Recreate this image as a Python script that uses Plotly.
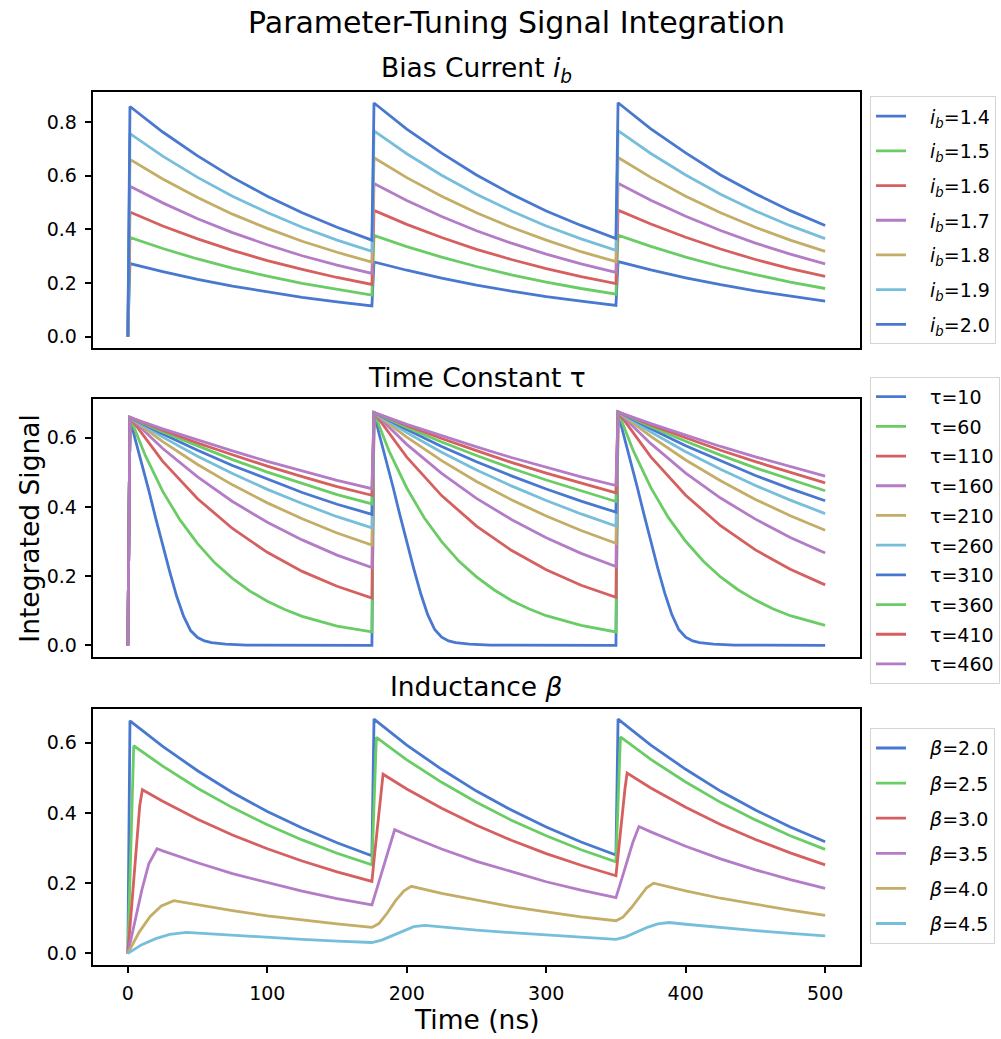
import plotly.graph_objects as go

# ---------------- data ----------------
t_ib = [0, 1.5, 25, 50, 75, 100, 125, 150, 175, 176.5, 200, 225, 250, 275, 300, 325, 350,
        351.5, 375, 400, 425, 450, 475, 500]
ib_labels = ["1.4", "1.5", "1.6", "1.7", "1.8", "1.9", "2.0"]
ib_14 = [0, 0.273, 0.243, 0.214, 0.189, 0.167, 0.147, 0.130, 0.115, 0.279, 0.248, 0.219, 0.193, 0.170, 0.150, 0.133, 0.117, 0.280, 0.249, 0.220, 0.194, 0.171, 0.151, 0.133]
ib_15 = [0, 0.370, 0.329, 0.290, 0.256, 0.226, 0.199, 0.176, 0.155, 0.378, 0.336, 0.297, 0.262, 0.231, 0.204, 0.180, 0.159, 0.379, 0.337, 0.297, 0.262, 0.232, 0.204, 0.180]
ib_16 = [0, 0.465, 0.413, 0.365, 0.322, 0.284, 0.251, 0.221, 0.195, 0.471, 0.419, 0.370, 0.326, 0.288, 0.254, 0.224, 0.198, 0.472, 0.420, 0.371, 0.327, 0.288, 0.254, 0.225]
ib_17 = [0, 0.561, 0.499, 0.440, 0.388, 0.343, 0.302, 0.267, 0.236, 0.571, 0.508, 0.448, 0.395, 0.349, 0.308, 0.272, 0.240, 0.572, 0.509, 0.449, 0.396, 0.349, 0.308, 0.272]
ib_18 = [0, 0.661, 0.588, 0.519, 0.457, 0.404, 0.356, 0.315, 0.278, 0.667, 0.593, 0.524, 0.462, 0.408, 0.360, 0.317, 0.280, 0.668, 0.594, 0.524, 0.462, 0.408, 0.360, 0.318]
ib_19 = [0, 0.757, 0.673, 0.594, 0.524, 0.463, 0.408, 0.360, 0.318, 0.767, 0.682, 0.602, 0.531, 0.469, 0.413, 0.365, 0.322, 0.768, 0.683, 0.603, 0.531, 0.469, 0.414, 0.366]
ib_20 = [0, 0.858, 0.763, 0.674, 0.594, 0.524, 0.462, 0.408, 0.360, 0.871, 0.774, 0.684, 0.603, 0.532, 0.469, 0.415, 0.366, 0.872, 0.775, 0.685, 0.603, 0.533, 0.470, 0.415]

t_tau = t_ib
t_tau10 = [0, 1.5, 5, 10, 15, 20, 25, 30, 35, 40, 45, 50, 55, 60, 70, 85, 175,
           176.5, 180, 185, 190, 195, 200, 205, 210, 215, 220, 225, 230, 235, 245, 260, 350,
           351.5, 355, 360, 365, 370, 375, 380, 385, 390, 395, 400, 405, 410, 420, 435, 500]
tau_10 = [0, 0.659, 0.600, 0.527, 0.448, 0.367, 0.289, 0.213, 0.142, 0.084, 0.043, 0.023, 0.013, 0.008, 0.004, 0.001, 0.0,
          0.673, 0.614, 0.540, 0.460, 0.378, 0.299, 0.222, 0.150, 0.089, 0.046, 0.024, 0.013, 0.008, 0.004, 0.001, 0.0,
          0.675, 0.616, 0.542, 0.462, 0.380, 0.300, 0.223, 0.151, 0.090, 0.046, 0.024, 0.013, 0.008, 0.004, 0.001, 0.0]
t_tau60 = [0, 1.5, 12.5, 25, 37.5, 50, 62.5, 75, 87.5, 100, 112.5, 125, 150, 175,
           176.5, 187.5, 200, 212.5, 225, 237.5, 250, 262.5, 275, 287.5, 300, 325, 350,
           351.5, 362.5, 375, 387.5, 400, 412.5, 425, 437.5, 450, 462.5, 475, 500]
tau_60 = [0, 0.659, 0.549, 0.445, 0.362, 0.294, 0.238, 0.194, 0.157, 0.128, 0.104, 0.084, 0.056, 0.039,
          0.673, 0.560, 0.455, 0.369, 0.300, 0.243, 0.198, 0.161, 0.130, 0.106, 0.086, 0.058, 0.039,
          0.675, 0.562, 0.456, 0.370, 0.301, 0.244, 0.198, 0.161, 0.131, 0.106, 0.086, 0.058]
tau_110 = [0, 0.659, 0.532, 0.424, 0.338, 0.269, 0.214, 0.171, 0.137, 0.673, 0.544, 0.433, 0.345, 0.275, 0.219, 0.174, 0.139, 0.675, 0.545, 0.434, 0.346, 0.276, 0.220, 0.175]
tau_160 = [0, 0.659, 0.569, 0.487, 0.416, 0.356, 0.305, 0.261, 0.225, 0.673, 0.581, 0.497, 0.425, 0.364, 0.311, 0.266, 0.228, 0.675, 0.583, 0.498, 0.426, 0.365, 0.312, 0.267]
tau_210 = [0, 0.659, 0.589, 0.523, 0.464, 0.412, 0.366, 0.325, 0.290, 0.673, 0.602, 0.534, 0.474, 0.421, 0.374, 0.332, 0.295, 0.675, 0.604, 0.536, 0.476, 0.422, 0.375, 0.333]
tau_260 = [0, 0.659, 0.602, 0.547, 0.497, 0.451, 0.410, 0.372, 0.340, 0.673, 0.615, 0.558, 0.507, 0.461, 0.419, 0.380, 0.345, 0.675, 0.617, 0.560, 0.509, 0.462, 0.420, 0.381]
tau_310 = [0, 0.659, 0.611, 0.564, 0.520, 0.480, 0.442, 0.408, 0.379, 0.673, 0.624, 0.575, 0.531, 0.490, 0.452, 0.417, 0.385, 0.675, 0.626, 0.577, 0.533, 0.491, 0.453, 0.418]
tau_360 = [0, 0.659, 0.617, 0.576, 0.537, 0.501, 0.468, 0.436, 0.409, 0.673, 0.630, 0.588, 0.549, 0.512, 0.478, 0.446, 0.416, 0.675, 0.632, 0.590, 0.550, 0.513, 0.479, 0.447]
tau_410 = [0, 0.659, 0.622, 0.585, 0.551, 0.518, 0.488, 0.459, 0.434, 0.673, 0.636, 0.598, 0.563, 0.529, 0.498, 0.469, 0.441, 0.675, 0.637, 0.600, 0.564, 0.531, 0.500, 0.470]
tau_460 = [0, 0.659, 0.626, 0.593, 0.562, 0.532, 0.504, 0.477, 0.453, 0.673, 0.639, 0.606, 0.574, 0.543, 0.515, 0.487, 0.462, 0.675, 0.641, 0.608, 0.575, 0.545, 0.516, 0.489]

b20_t = t_ib
b20 = [0, 0.662, 0.589, 0.520, 0.458, 0.404, 0.357, 0.315, 0.278, 0.667, 0.593, 0.524, 0.462, 0.408, 0.360, 0.317, 0.280, 0.667, 0.593, 0.524, 0.462, 0.408, 0.360, 0.318]
b25_t = [0, 4.2, 25, 50, 75, 100, 125, 150, 175, 178.2, 200, 225, 250, 275, 300, 325, 350, 353.2, 375, 400, 425, 450, 475, 500]
b25 = [0, 0.591, 0.533, 0.470, 0.415, 0.366, 0.323, 0.285, 0.252, 0.615, 0.551, 0.487, 0.430, 0.379, 0.335, 0.295, 0.261, 0.616, 0.552, 0.488, 0.430, 0.380, 0.335, 0.296]
b30_t = [0, 3, 6, 8.5, 10.4, 25, 50, 75, 100, 125, 150, 175, 177, 179.5, 181.5, 183, 200, 225, 250, 275, 300, 325, 350,
         352, 354.5, 356.5, 358, 375, 400, 425, 450, 475, 500]
b30 = [0, 0.15, 0.30, 0.42, 0.466, 0.433, 0.382, 0.337, 0.298, 0.263, 0.232, 0.205, 0.285, 0.385, 0.465, 0.510, 0.468, 0.413, 0.365, 0.322, 0.284, 0.251, 0.221,
       0.30, 0.39, 0.47, 0.513, 0.471, 0.416, 0.367, 0.324, 0.286, 0.252]
b35_t = [0, 5, 10, 15, 20.9, 25, 50, 75, 100, 125, 150, 175, 179, 183, 187, 191.3, 200, 225, 250, 275, 300, 325, 350,
         354, 358, 362, 366.5, 375, 400, 425, 450, 475, 500]
b35 = [0, 0.09, 0.18, 0.255, 0.298, 0.292, 0.258, 0.227, 0.201, 0.177, 0.156, 0.138, 0.190, 0.243, 0.296, 0.352, 0.337, 0.297, 0.262, 0.232, 0.204, 0.180, 0.159,
       0.21, 0.262, 0.315, 0.361, 0.346, 0.305, 0.269, 0.238, 0.210, 0.185]
b40_t = [0, 8, 16, 24, 33, 50, 75, 100, 125, 150, 175, 180, 186, 192, 198, 203.3, 225, 250, 275, 300, 325, 350,
         355, 361, 367, 372, 377, 400, 425, 450, 475, 500]
b40 = [0, 0.06, 0.105, 0.135, 0.150, 0.138, 0.122, 0.107, 0.095, 0.084, 0.074, 0.085, 0.115, 0.150, 0.178, 0.191, 0.171, 0.151, 0.133, 0.118, 0.104, 0.093,
       0.103, 0.13, 0.163, 0.187, 0.200, 0.178, 0.157, 0.139, 0.123, 0.108]
b45_t = [0, 10, 20, 30, 42, 50, 75, 100, 125, 150, 175, 182, 190, 198, 205, 213, 225, 250, 275, 300, 325, 350,
         357, 365, 373, 380, 388, 400, 425, 450, 475, 500]
b45 = [0, 0.025, 0.042, 0.054, 0.060, 0.058, 0.051, 0.045, 0.040, 0.035, 0.031, 0.038, 0.052, 0.066, 0.076, 0.080, 0.075, 0.066, 0.059, 0.052, 0.046, 0.040,
       0.047, 0.061, 0.075, 0.084, 0.088, 0.083, 0.073, 0.065, 0.057, 0.050]

x_ticks = [0, 100, 200, 300, 400, 500]
y_ticks_1 = [0.0, 0.2, 0.4, 0.6, 0.8]
y_ticks_23 = [0.0, 0.2, 0.4, 0.6]

# ---------------- style / layout ----------------
COLORS = ["#4878CF", "#6ACC65", "#D65F5F", "#B47CC7", "#C4AD66", "#77BEDB"]
FONT = "DejaVu Sans"
W, H = 1001, 1039
ML, MR, MT, MB = 93.3, 141.0, 91.7, 73.7
PW, PH = W - ML - MR, H - MT - MB
LW = 2.8
PADL = "\u2002\u2002"  # gap between legend handle and label, as in the reference


def px_x(px):
    return (px - ML) / PW


def px_y(py):
    return (H - MB - py) / PH


fig = go.Figure()

IB = "<i>i</i><sub><i>b</i></sub>"
panels = [
    ("x", "y", "legend", [(f"{IB}={lab}", t_ib, v) for lab, v in
                          zip(ib_labels, [ib_14, ib_15, ib_16, ib_17, ib_18, ib_19, ib_20])]),
    ("x2", "y2", "legend2", [
        ("τ=10", t_tau10, tau_10), ("τ=60", t_tau60, tau_60), ("τ=110", t_tau, tau_110),
        ("τ=160", t_tau, tau_160), ("τ=210", t_tau, tau_210), ("τ=260", t_tau, tau_260),
        ("τ=310", t_tau, tau_310), ("τ=360", t_tau, tau_360), ("τ=410", t_tau, tau_410),
        ("τ=460", t_tau, tau_460)]),
    ("x3", "y3", "legend3", [
        ("<i>β</i>=2.0", b20_t, b20), ("<i>β</i>=2.5", b25_t, b25), ("<i>β</i>=3.0", b30_t, b30),
        ("<i>β</i>=3.5", b35_t, b35), ("<i>β</i>=4.0", b40_t, b40), ("<i>β</i>=4.5", b45_t, b45)]),
]

for pi, (xa, ya, lg, series) in enumerate(panels):
    for si, (name, tx, vy) in enumerate(series):
        fig.add_trace(go.Scatter(
            x=tx, y=vy, mode="lines", name=PADL + name, xaxis=xa, yaxis=ya, legend=lg,
            legendgroup=f"p{pi}s{si}",
            line=dict(color=COLORS[si % len(COLORS)], width=LW),
            hoverinfo="skip"))

axis_common = dict(showline=True, mirror=True, linecolor="#000000", linewidth=1.5,
                   showgrid=False, zeroline=False, range=[-25, 525],
                   tickfont=dict(family=FONT, size=19, color="#000000"))

yax_common = dict(showline=True, mirror=True, linecolor="#000000", linewidth=1.5,
                  showgrid=False, zeroline=False, ticks="outside", ticklen=6.5,
                  tickwidth=1.5, tickcolor="#000000",
                  tickfont=dict(family=FONT, size=19, color="#000000"), ticklabelstandoff=4)

dom1 = [px_y(347.7), px_y(91.7)]
dom2 = [px_y(657.3), px_y(399.3)]
dom3 = [px_y(965.3), px_y(709.0)]

legend_common = dict(font=dict(family=FONT, size=19, color="#000000"),
                     bgcolor="rgba(255,255,255,0.9)", bordercolor="#d4d4d4", borderwidth=1,
                     xanchor="left", yanchor="top", itemclick=False, itemdoubleclick=False)

fig.update_layout(
    width=W, height=H, autosize=False,
    margin=dict(l=ML, r=MR, t=MT, b=MB, autoexpand=False),
    paper_bgcolor="white", plot_bgcolor="white",
    font=dict(family=FONT, color="#000000"),
    showlegend=True,
    xaxis=dict(axis_common, domain=[0, 1], anchor="y", showticklabels=False, ticks=""),
    xaxis2=dict(axis_common, domain=[0, 1], anchor="y2", showticklabels=False, ticks=""),
    xaxis3=dict(axis_common, domain=[0, 1], anchor="y3", tickvals=x_ticks,
                ticktext=[str(v) for v in x_ticks], ticks="outside", ticklen=6.5,
                tickwidth=1.5, tickcolor="#000000", ticklabelstandoff=4),
    yaxis=dict(yax_common, domain=dom1, anchor="x", range=[-0.041, 0.912],
               tickvals=y_ticks_1, ticktext=[f"{v:.1f}" for v in y_ticks_1]),
    yaxis2=dict(yax_common, domain=dom2, anchor="x2", range=[-0.034, 0.711],
                tickvals=y_ticks_23, ticktext=[f"{v:.1f}" for v in y_ticks_23]),
    yaxis3=dict(yax_common, domain=dom3, anchor="x3", range=[-0.033, 0.696],
                tickvals=y_ticks_23, ticktext=[f"{v:.1f}" for v in y_ticks_23]),
    legend=dict(legend_common, x=px_x(870), y=px_y(96), tracegroupgap=7),
    legend2=dict(legend_common, x=px_x(870), y=px_y(376.7), tracegroupgap=2),
    legend3=dict(legend_common, x=px_x(870), y=px_y(728.3), tracegroupgap=7.4),
)

annots = [
    ("Parameter-Tuning Signal Integration", 517, 22, 30, 0),
    (f"Bias Current {IB}", 476.7, 69, 26.5, 0),
    ("Time Constant τ", 476.7, 377, 26.5, 0),
    ("Inductance <i>β</i>", 476.7, 687, 26.5, 0),
    ("Integrated Signal", 29, 528, 26.5, -90),
    ("Time (ns)", 476.7, 1020, 26.5, 0),
]
for text, px, py, size, ang in annots:
    fig.add_annotation(text=text, x=px_x(px), y=px_y(py), xref="paper", yref="paper",
                       xanchor="center", yanchor="middle", showarrow=False, textangle=ang,
                       font=dict(family=FONT, size=size, color="#000000"))

fig.write_html("out.html")
